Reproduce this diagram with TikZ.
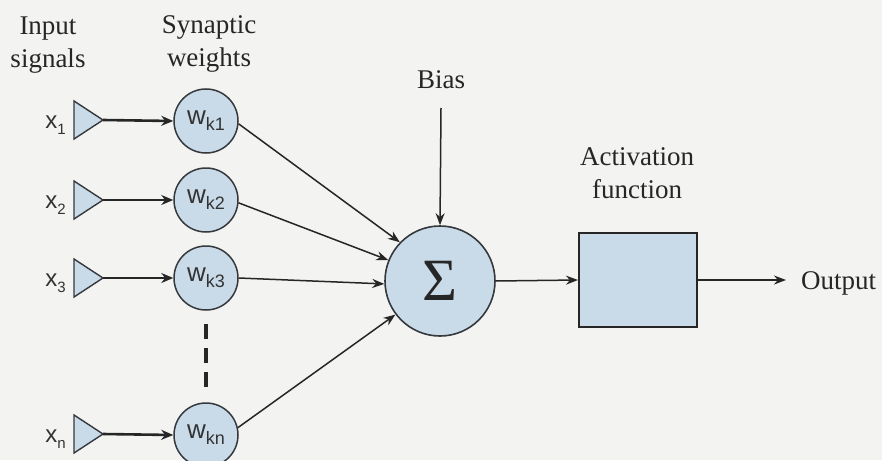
\documentclass[tikz,border=0pt]{standalone}
\usepackage{fontspec}
\setmainfont{Liberation Serif}
\newfontfamily\arialf{Liberation Sans}
\usetikzlibrary{arrows.meta}
\definecolor{bgc}{HTML}{F3F3F1}
\definecolor{nfill}{HTML}{C9DBE9}
\definecolor{nline}{HTML}{35393D}
\newcommand{\wsub}[1]{w\raisebox{-6pt}{\fontsize{18}{18}\selectfont #1}}
\newcommand{\xsub}[1]{x\raisebox{-6pt}{\fontsize{15}{15}\selectfont #1}}
\begin{document}
\begin{tikzpicture}[x=1pt,y=-1pt,
  weight/.style={circle, draw=nline, fill=nfill, line width=1.5pt, minimum size=64pt, inner sep=0pt,
    font=\arialf\fontsize{26}{26}\selectfont, text=black!80},
  lbl/.style={font=\fontsize{27}{33}\selectfont, align=center, text=black!85, inner sep=0pt},
  xlbl/.style={font=\arialf\fontsize{24}{24}\selectfont, text=black!80, inner sep=0pt, anchor=east},
  tri/.style={draw=nline, fill=nfill, line width=1.4pt, line join=miter},
  inarr/.style={line width=2.6pt, draw=black!85, -{Stealth[length=12pt,width=10pt]}},
  arr/.style={line width=1.5pt, draw=black!85, -{Stealth[length=12pt,width=9pt]}},
  dashln/.style={line width=3.6pt, draw=black!85, dash pattern=on 15pt off 9pt},
  sumnode/.style={circle, draw=nline, fill=nfill, line width=1.6pt, minimum size=110pt, inner sep=0pt,
    font=\fontsize{60}{60}\selectfont, text=black!85},
  actbox/.style={rectangle, draw=black!85, fill=nfill, line width=2pt, minimum width=118pt, minimum height=94pt, inner sep=0pt}]
\fill[bgc] (0,0) rectangle (882,460);
\useasboundingbox (0,0) rectangle (882,460);
\begin{scope}
\clip (0,0) rectangle (882,460);
% labels
\node[lbl] (inlbl) at (48,45) {Input\\signals};
\node[lbl] (synlbl) at (209,44) {Synaptic\\weights};
\node[lbl] (bias) at (441,80) {Bias};
\node[lbl] (actlbl) at (637,173) {Activation\\function};
\node[lbl, anchor=west] (out) at (801,283) {Output};
% triangles
\foreach \i/\y in {1/120,2/200,3/278,n/434}{
  \draw[tri] (74,\y-19) -- (103,\y) -- (74,\y+19) -- cycle;
  \coordinate (t\i) at (103,\y);
}
\node[xlbl] (x1) at (66,125) {\xsub{1}};
\node[xlbl] (x2) at (66,205) {\xsub{2}};
\node[xlbl] (x3) at (66,283) {\xsub{3}};
\node[xlbl] (xn) at (66,439) {\xsub{n}};
% weights
\node[weight] (w1) at (206,121) {\raisebox{-4pt}{\wsub{k1}}};
\node[weight] (w2) at (206,200) {\raisebox{-4pt}{\wsub{k2}}};
\node[weight] (w3) at (206,278) {\raisebox{-4pt}{\wsub{k3}}};
\node[weight] (wn) at (206,435) {\raisebox{-4pt}{\wsub{kn}}};
% sum and activation
\node[sumnode] (sum) at (440,281) {Σ};
\node[actbox] (box) at (638,280) {};
\coordinate (btop) at (441,108);
\coordinate (oend) at (786,280);
% connectors
\draw[inarr] (t1) -- (w1.west);
\draw[inarr] (t2) -- (w2.west);
\draw[inarr] (t3) -- (w3.west);
\draw[inarr] (tn) -- (wn.west);
\draw[dashln, shorten <=13pt, shorten >=15pt] (w3.south) -- (wn.north);
\draw[arr] (w1.-5) -- (sum.136);
\draw[arr] (w2.-5) -- (sum.158);
\draw[arr] (w3.east) -- (sum.183);
\draw[arr] (wn.13) -- (sum.217);
\draw[arr] (btop) -- (sum.north);
\draw[arr] (sum.east) -- (box.west);
\draw[arr] (box.east) -- (oend);
\end{scope}
\end{tikzpicture}
\end{document}
